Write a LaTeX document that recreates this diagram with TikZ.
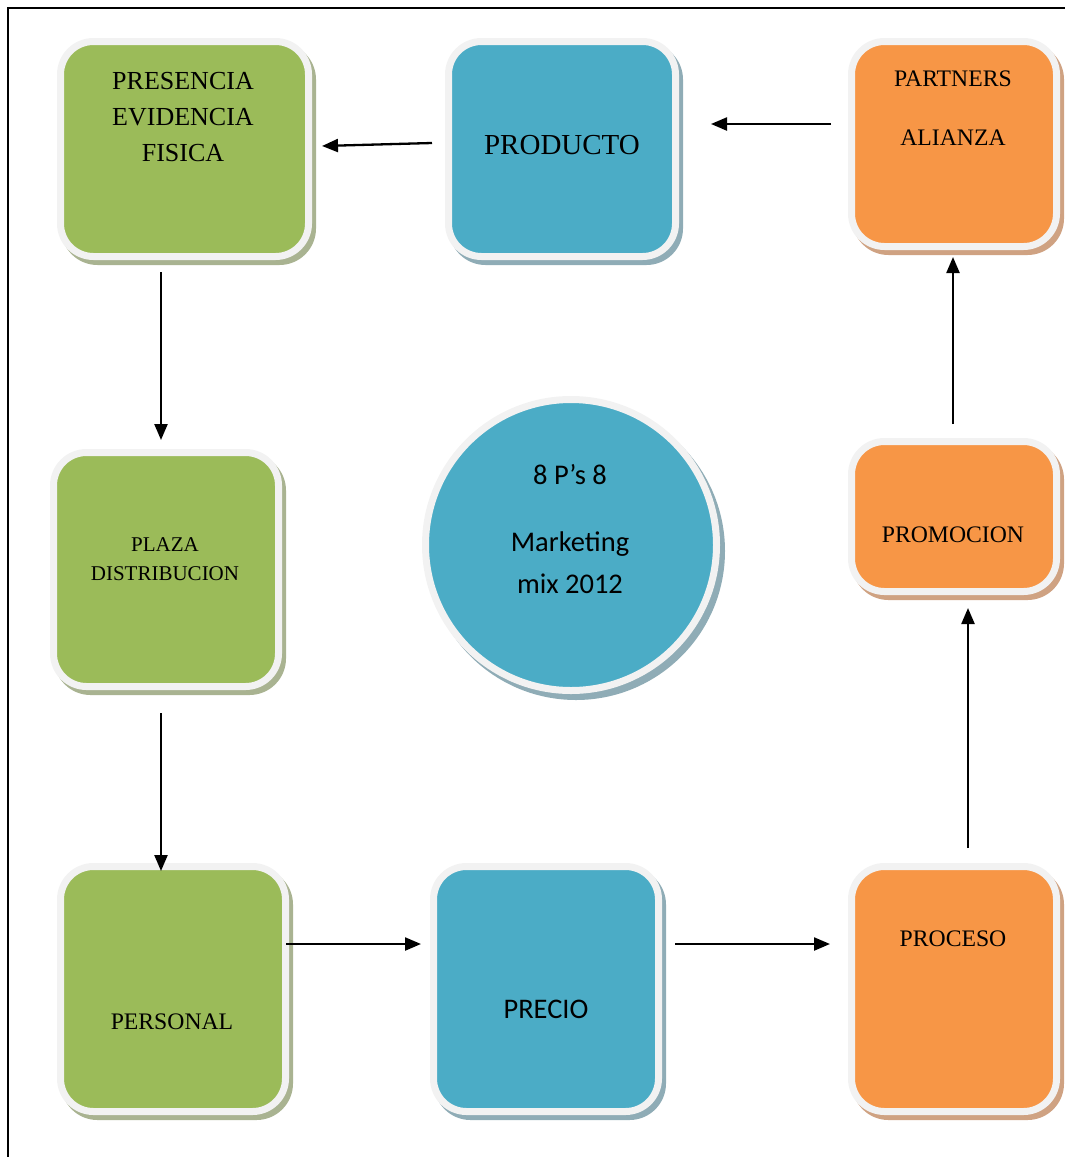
\documentclass[tikz,border=0pt]{standalone}
\usepackage{fontspec}
\setmainfont{Liberation Serif}
\newfontfamily\calib{Carlito}
\usetikzlibrary{arrows.meta,shadows,calc}

\definecolor{grn}{HTML}{9BBB59}
\definecolor{blu}{HTML}{4BACC6}
\definecolor{org}{HTML}{F79646}
\definecolor{grnsh}{HTML}{A9B391}
\definecolor{blush}{HTML}{8FACB6}
\definecolor{orgsh}{HTML}{CFA282}
\definecolor{rim}{HTML}{F2F2F2}

\tikzset{
  card/.style n args={4}{
    draw=rim, line width=7pt, rounded corners=33pt, fill=#1,
    minimum width=#3, minimum height=#4, inner sep=0pt, outer sep=0pt,
    drop shadow={shadow xshift=4pt, shadow yshift=-5pt, fill=#2, draw=#2,
                 line width=7pt, opacity=1}},
  disc/.style={
    circle, draw=rim, line width=7pt, fill=blu, minimum size=291pt,
    inner sep=0pt, outer sep=0pt,
    drop shadow={shadow xshift=5pt, shadow yshift=-6pt, fill=blush, draw=blush,
                 line width=7pt, opacity=1}},
  lbl/.style={inner sep=0pt, align=center, text=black},
  link/.style={line width=2.3pt, -{Triangle[length=16pt,width=13pt]}},
  frame/.style={line width=2pt, draw=black}
}

\begin{document}
\begin{tikzpicture}[x=1pt,y=-1pt]
  \useasboundingbox (0,0) rectangle (1065,1157);

  % outer frame (left and top edges)
  \draw[frame] (8,1157) -- (8,8) -- (1065,8);

  % boxes
  \node[card={grn}{grnsh}{248pt}{215pt}] (pres)  at (184.5,149) {};
  \node[card={blu}{blush}{227pt}{215pt}] (prod)  at (562,149) {};
  \node[card={org}{orgsh}{205pt}{205pt}] (part)  at (954,144) {};
  \node[card={grn}{grnsh}{225pt}{234pt}] (plaza) at (166,569.5) {};
  \node[card={org}{orgsh}{205pt}{150pt}] (prom)  at (954,516.5) {};
  \node[card={grn}{grnsh}{225pt}{245pt}] (pers)  at (173,989) {};
  \node[card={blu}{blush}{225pt}{245pt}] (prec)  at (546,989) {};
  \node[card={org}{orgsh}{205pt}{245pt}] (proc)  at (954,989) {};
  \node[disc] (mix) at (571,545) {};

  % labels
  \node[lbl, font=\fontsize{26}{36}\selectfont] (presT) at (183,117)
    {PRESENCIA\\EVIDENCIA\\FISICA};
  \node[lbl, font=\fontsize{29}{34}\selectfont] (prodT) at (562,145) {PRODUCTO};
  \node[lbl, font=\fontsize{23.7}{59}\selectfont] (partT) at (953,108)
    {PARTNERS\\ALIANZA};
  \node[lbl, font=\fontsize{21}{29}\selectfont] (plazaT) at (165,559)
    {PLAZA\\DISTRIBUCION};
  \node[lbl, font=\fontsize{23.7}{28}\selectfont] (promT) at (953,535) {PROMOCION};
  \node[lbl, font=\fontsize{23.7}{28}\selectfont] (persT) at (172,1022) {PERSONAL};
  \node[lbl, font=\calib\fontsize{28.4}{34}\selectfont] (precT) at (546,1009) {PRECIO};
  \node[lbl, font=\fontsize{23.7}{28}\selectfont] (procT) at (953,939) {PROCESO};
  \node[lbl, font=\calib\fontsize{28.5}{34}\selectfont] (mixA) at (570,475) {8 P’s 8};
  \node[lbl, font=\calib\fontsize{28.5}{42}\selectfont] (mixB) at (570,563)
    {Marketing\\mix 2012};

  % connectors
  \draw[link] ($(prod.west)+(-16.5,-6)$) -- ($(pres.east)+(13.5,-3)$);
  \draw[link] ($(part.west)+(-20.5,-20)$) -- ($(prod.east)+(35.5,-25)$);
  \draw[link] ($(pres.south)+(-23.5,15.5)$) -- ($(plaza.north)+(-5,-12.5)$);
  \draw[link] ($(plaza.south)+(-5,26.5)$) -- ($(pers.north)+(-12,4.5)$);
  \draw[link] ($(pers.east)+(0.5,-45)$) -- ($(prec.west)+(-12.5,-45)$);
  \draw[link] ($(prec.east)+(16.5,-45)$) -- ($(proc.west)+(-21.5,-45)$);
  \draw[link] ($(proc.north)+(14,-18.5)$) -- ($(prom.south)+(14,16.5)$);
  \draw[link] ($(prom.north)+(-1,-17.5)$) -- ($(part.south)+(-1,10.5)$);
\end{tikzpicture}
\end{document}
